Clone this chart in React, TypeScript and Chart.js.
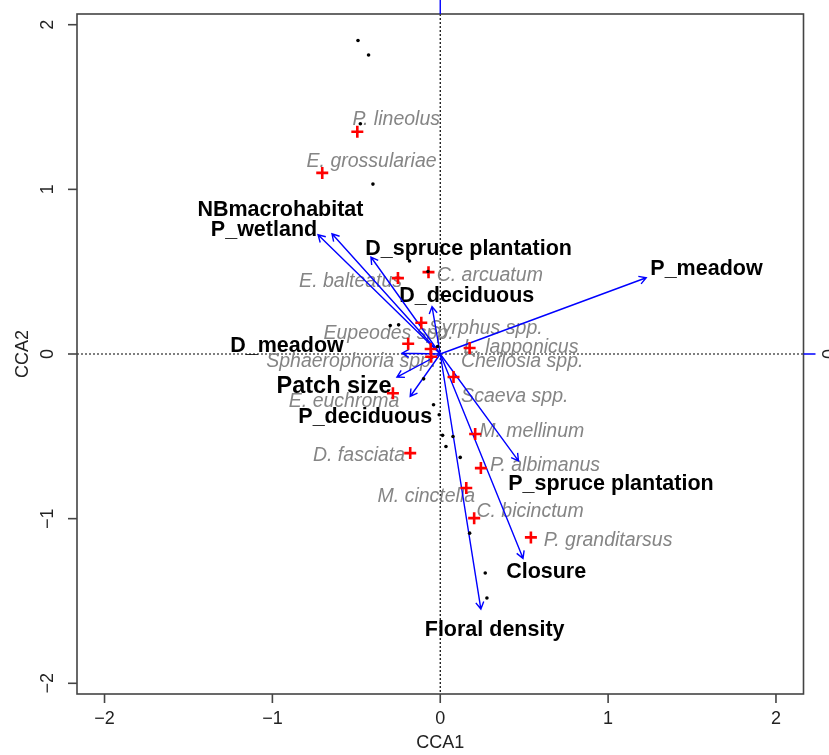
import React, { useEffect, useRef } from "react";
import { Chart, registerables } from "chart.js";

Chart.register(...registerables);

// ---- Data ----
const siteX = [-0.49, -0.427, -0.476, -0.401, -0.183, -0.073, -0.298, -0.248, -0.016, -0.099, -0.04, -0.006, 0.014, 0.076, 0.034, 0.119, 0.175, 0.268, 0.278];
const siteY = [1.904, 1.816, 1.398, 1.032, 0.565, 0.501, 0.173, 0.177, 0.046, -0.151, -0.308, -0.369, -0.494, -0.501, -0.562, -0.628, -1.088, -1.33, -1.482];

const speciesNames = ["P. lineolus", "E. grossulariae", "C. arcuatum", "E. balteatus", "Syrphus spp.", "Eupeodes spp.", "L. lapponicus", "Sphaerophoria spp.", "Cheilosia spp.", "E. euchroma", "Scaeva spp.", "D. fasciata", "M. mellinum", "P. albimanus", "M. cinctella", "C. bicinctum", "P. granditarsus"];
const speciesX = [-0.494, -0.703, -0.07, -0.252, -0.113, -0.191, 0.175, -0.057, -0.054, -0.282, 0.079, -0.179, 0.208, 0.242, 0.155, 0.202, 0.54];
const speciesY = [1.35, 1.1, 0.497, 0.461, 0.19, 0.062, 0.036, 0.03, -0.017, -0.238, -0.14, -0.602, -0.486, -0.693, -0.814, -0.997, -1.114];
const speciesLabelX = [-0.262, -0.409, 0.295, -0.534, 0.271, -0.308, 0.481, -0.53, 0.488, -0.573, 0.444, -0.484, 0.545, 0.624, -0.083, 0.535, 1.0];
const speciesLabelY = [1.422, 1.169, 0.477, 0.437, 0.157, 0.127, 0.042, -0.049, -0.049, -0.288, -0.258, -0.618, -0.471, -0.679, -0.867, -0.957, -1.133];

const envNames = ["NBmacrohabitat", "P_wetland", "D_spruce plantation", "D_deciduous", "P_meadow", "D_meadow", "Patch size", "P_deciduous", "P_spruce plantation", "Closure", "Floral density"];
const envX = [-0.728, -0.645, -0.413, -0.049, 1.227, -0.228, -0.258, -0.179, 0.466, 0.493, 0.242];
const envY = [0.724, 0.73, 0.589, 0.288, 0.463, 0.005, -0.14, -0.258, -0.649, -1.241, -1.549];
const envLabelX = [-0.952, -1.05, 0.169, 0.158, 1.586, -0.913, -0.633, -0.447, 1.017, 0.631, 0.324];
const envLabelY = [0.876, 0.754, 0.639, 0.349, 0.516, 0.05, -0.197, -0.383, -0.788, -1.325, -1.675];
const envLabelSize = [21.5, 21.5, 21.5, 21.5, 21.5, 21.5, 23.5, 21.5, 21.5, 21.5, 21.5];

const tickValues = [-2, -1, 0, 1, 2];
const tickLabels = ["\u22122", "\u22121", "0", "1", "2"];
const xTitle = "CCA1";
const yTitle = "CCA2";

const FONT = "'Liberation Sans', Arial, Helvetica, sans-serif";

const biplotPlugin = {
  id: "biplot",
  beforeDatasetsDraw(chart: any) {
    const { ctx, chartArea, scales } = chart;
    const xs = scales.x;
    const ys = scales.y;
    const x0 = xs.getPixelForValue(0);
    const y0 = ys.getPixelForValue(0);
    ctx.save();
    // dotted zero lines
    ctx.strokeStyle = "#000";
    ctx.lineWidth = 1.2;
    ctx.setLineDash([2, 2]);
    ctx.beginPath();
    ctx.moveTo(x0, chartArea.top);
    ctx.lineTo(x0, chartArea.bottom);
    ctx.moveTo(chartArea.left, y0);
    ctx.lineTo(chartArea.right, y0);
    ctx.stroke();
    ctx.setLineDash([]);

    // species labels
    ctx.fillStyle = "#858585";
    ctx.font = `italic 19.5px ${FONT}`;
    ctx.textAlign = "center";
    ctx.textBaseline = "middle";
    speciesNames.forEach((n, i) => {
      ctx.fillText(n, xs.getPixelForValue(speciesLabelX[i]), ys.getPixelForValue(speciesLabelY[i]));
    });

    // env labels
    ctx.fillStyle = "#000";
    envNames.forEach((n, i) => {
      ctx.font = `bold ${envLabelSize[i]}px ${FONT}`;
      ctx.fillText(n, xs.getPixelForValue(envLabelX[i]), ys.getPixelForValue(envLabelY[i]));
    });

    // arrows
    ctx.strokeStyle = "#0000ff";
    ctx.lineWidth = 1.4;
    const head = 8;
    const ang = Math.PI / 6;
    envNames.forEach((_, i) => {
      const px = xs.getPixelForValue(envX[i]);
      const py = ys.getPixelForValue(envY[i]);
      const a = Math.atan2(py - y0, px - x0);
      ctx.beginPath();
      ctx.moveTo(x0, y0);
      ctx.lineTo(px, py);
      ctx.moveTo(px - head * Math.cos(a - ang), py - head * Math.sin(a - ang));
      ctx.lineTo(px, py);
      ctx.lineTo(px - head * Math.cos(a + ang), py - head * Math.sin(a + ang));
      ctx.stroke();
    });
    ctx.restore();
  },
  afterDraw(chart: any) {
    const { ctx, chartArea, scales } = chart;
    const xs = scales.x;
    const ys = scales.y;
    const x0 = xs.getPixelForValue(0);
    const y0 = ys.getPixelForValue(0);
    ctx.save();
    // frame
    ctx.strokeStyle = "#444";
    ctx.lineWidth = 1.6;
    ctx.strokeRect(chartArea.left, chartArea.top, chartArea.right - chartArea.left, chartArea.bottom - chartArea.top);
    // ticks
    ctx.fillStyle = "#222";
    ctx.font = `18px ${FONT}`;
    ctx.textAlign = "center";
    ctx.textBaseline = "middle";
    tickValues.forEach((v, i) => {
      const px = xs.getPixelForValue(v);
      ctx.beginPath();
      ctx.moveTo(px, chartArea.bottom);
      ctx.lineTo(px, chartArea.bottom + 9);
      ctx.stroke();
      ctx.fillText(tickLabels[i], px, chartArea.bottom + 25);
      const py = ys.getPixelForValue(v);
      ctx.beginPath();
      ctx.moveTo(chartArea.left, py);
      ctx.lineTo(chartArea.left - 9, py);
      ctx.stroke();
      ctx.save();
      ctx.translate(chartArea.left - 29, py);
      ctx.rotate(-Math.PI / 2);
      ctx.fillText(tickLabels[i], 0, 0);
      ctx.restore();
    });
    // axis titles
    ctx.fillText(xTitle, (chartArea.left + chartArea.right) / 2, chartArea.bottom + 49);
    ctx.save();
    ctx.translate(chartArea.left - 54, (chartArea.top + chartArea.bottom) / 2);
    ctx.rotate(-Math.PI / 2);
    ctx.fillText(yTitle, 0, 0);
    ctx.restore();
    // blue secondary axes ticks (biplot scale)
    ctx.strokeStyle = "#0000ff";
    ctx.lineWidth = 1.4;
    ctx.beginPath();
    ctx.moveTo(x0, chartArea.top);
    ctx.lineTo(x0, 0);
    ctx.moveTo(chartArea.right, y0);
    ctx.lineTo(chartArea.right + 12, y0);
    ctx.stroke();
    ctx.save();
    ctx.translate(chartArea.right + 27, y0);
    ctx.rotate(-Math.PI / 2);
    ctx.fillStyle = "#222";
    ctx.fillText("0", 0, 0);
    ctx.restore();
    ctx.restore();
  },
};

export default function App() {
  const canvasRef = useRef<HTMLCanvasElement | null>(null);
  useEffect(() => {
    if (!canvasRef.current) return;
    const chart = new Chart(canvasRef.current, {
      type: "scatter",
      data: {
        datasets: [
          {
            label: "sites",
            data: siteX.map((x, i) => ({ x, y: siteY[i] })),
            pointRadius: 1.8,
            pointBackgroundColor: "#000",
            pointBorderWidth: 0,
            pointStyle: "circle",
          },
          {
            label: "species",
            data: speciesX.map((x, i) => ({ x, y: speciesY[i] })),
            pointStyle: "cross",
            pointRadius: 6,
            pointBorderColor: "#ff0000",
            pointBorderWidth: 2.6,
          },
        ],
      },
      options: {
        responsive: false,
        animation: false,
        events: [],
        layout: { padding: { left: 77, right: 25.5, top: 14, bottom: 61 } },
        scales: {
          x: { type: "linear", min: -2.164, max: 2.164, display: false },
          y: { type: "linear", min: -2.065, max: 2.065, display: false },
        },
        plugins: { legend: { display: false }, tooltip: { enabled: false } },
      },
      plugins: [biplotPlugin],
    } as any);
    return () => chart.destroy();
  }, []);
  return (
    <div style={{ position: "absolute", left: 0, top: 0, width: 829, height: 755, background: "#fff" }}>
      <canvas ref={canvasRef} width={829} height={755} style={{ width: 829, height: 755 }} />
    </div>
  );
}
